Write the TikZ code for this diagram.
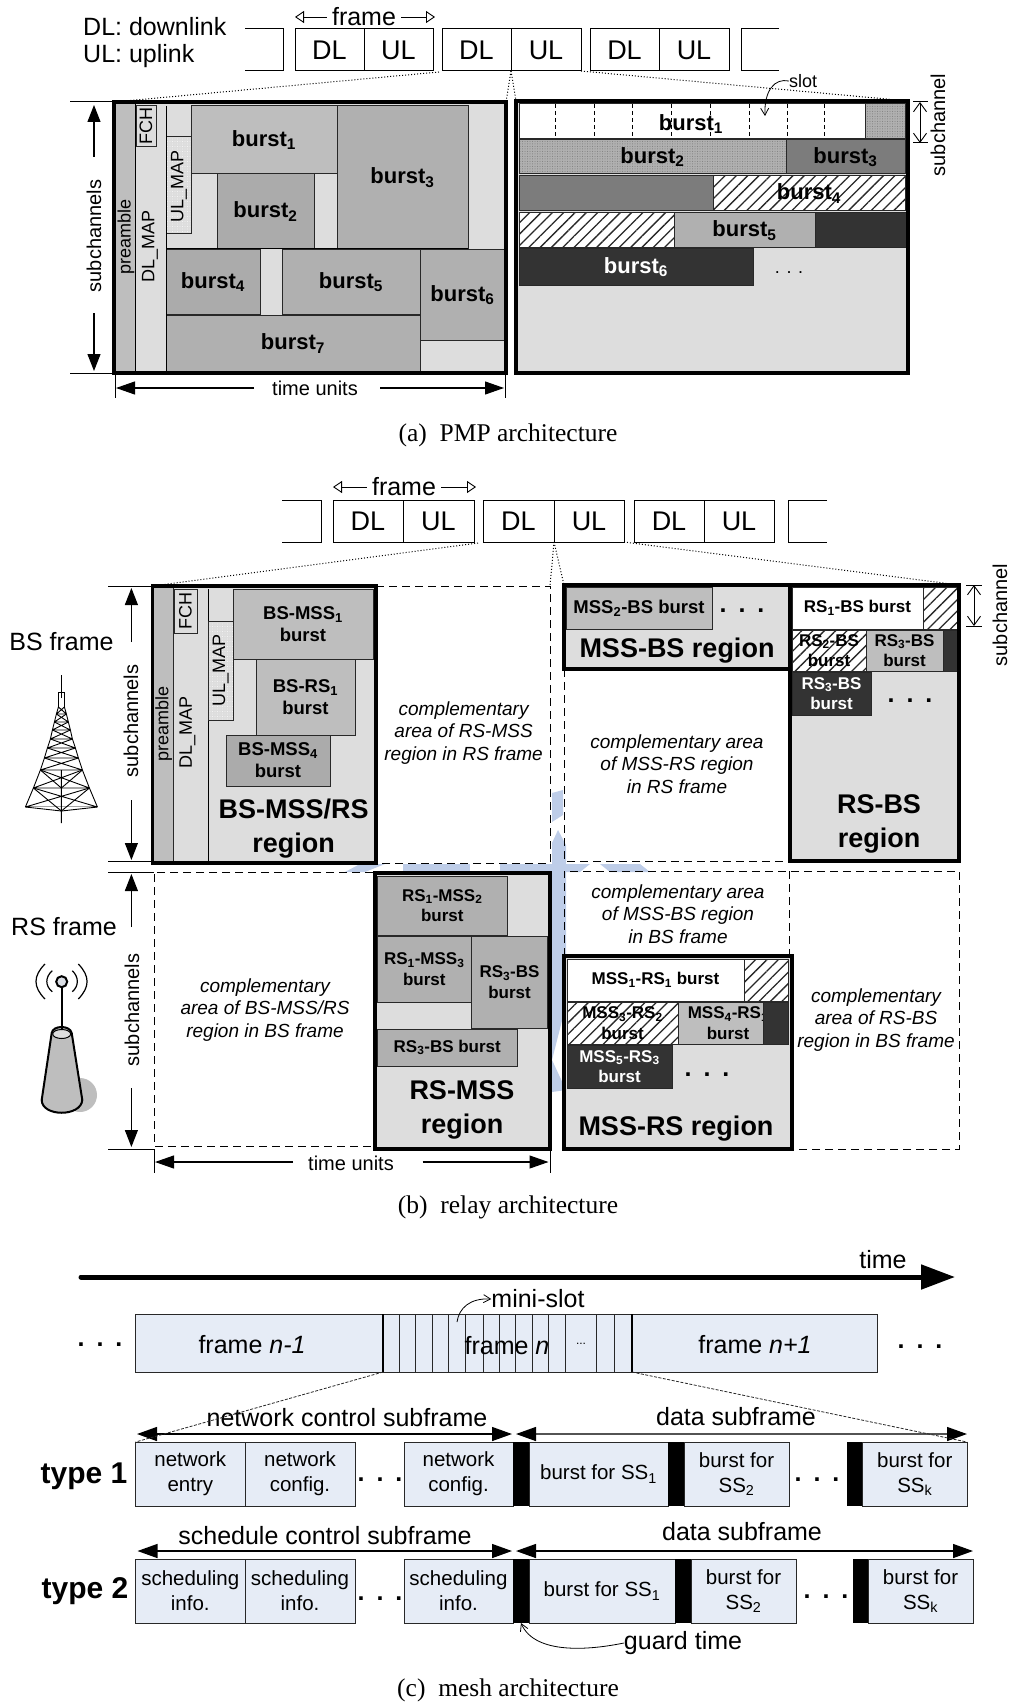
\documentclass[tikz,border=0pt]{standalone}
\usepackage{fontspec}
\setmainfont{Liberation Sans}
\newfontfamily\capfont{Liberation Serif}
\usetikzlibrary{arrows.meta, patterns.meta}
\definecolor{mylight}{RGB}{221,221,221}
\definecolor{myburst}{RGB}{176,176,176}
\definecolor{mypale}{RGB}{190,190,190}
\definecolor{mymid}{RGB}{124,124,124}
\definecolor{mydark}{RGB}{51,51,51}
\definecolor{myline}{RGB}{40,40,40}
\definecolor{myblue}{RGB}{230,236,246}
\definecolor{mywater}{RGB}{190,205,232}
\tikzset{
  cell/.style={rectangle, draw=myline, line width=1pt, inner sep=0pt, outer sep=0pt, align=center},
  framecell/.style={cell, draw=black, fill=white, font=\fontsize{27}{30}\selectfont},
  lightcell/.style={cell, fill=mylight},
  burstcell/.style={cell, fill=myburst, font=\bfseries\fontsize{22}{24}\selectfont},
  palecell/.style={burstcell, fill=mypale},
  midcell/.style={burstcell, fill=mymid},
  darkcell/.style={burstcell, fill=mydark, text=white},
  whitecell/.style={burstcell, fill=white},
  hatchcell/.style={burstcell, preaction={fill=white}, pattern={Lines[angle=45,distance=8pt,line width=1.3pt]}, pattern color=myline},
  dotcell/.style={burstcell, preaction={fill=myburst}, pattern={Dots[distance=2.5pt,radius=0.5pt]}, pattern color=mymid},
  dotlight/.style={cell, preaction={fill=mylight}, pattern={Dots[distance=2.5pt,radius=0.4pt]}, pattern color=white},
  smallburst/.style={font=\bfseries\fontsize{17}{20.5}\selectfont},
  midburst/.style={font=\bfseries\fontsize{18.5}{22}\selectfont},
  regionframe/.style={rectangle, draw=black, line width=3.6pt, inner sep=0pt, outer sep=0pt},
  bluecell/.style={cell, fill=myblue, draw=myline, font=\fontsize{20.5}{25}\selectfont},
  blackcell/.style={rectangle, fill=black, inner sep=0pt, outer sep=0pt},
  vlabel/.style={rotate=90, inner sep=0pt, font=\fontsize{18}{20}\selectfont},
  sublabel/.style={rotate=90, inner sep=0pt, font=\fontsize{20}{22}\selectfont},
  biglabel/.style={inner sep=0pt, font=\fontsize{25}{30}\selectfont},
  midlabel/.style={inner sep=0pt, font=\fontsize{20}{22}\selectfont},
  regionlabel/.style={inner sep=0pt, align=center, font=\bfseries\fontsize{27}{34}\selectfont},
  complabel/.style={inner sep=0pt, align=center, font=\itshape\fontsize{19}{22.7}\selectfont},
  caplabel/.style={inner sep=0pt, font=\capfont\fontsize{25.5}{30}\selectfont},
  typelabel/.style={inner sep=0pt, font=\bfseries\fontsize{30}{34}\selectfont},
  dotslabel/.style={inner sep=0pt, anchor=base, font=\bfseries\fontsize{25}{30}\selectfont},
  dimarrow/.style={-{Triangle[length=17pt,width=13pt]}, line width=1.1pt, color=black},
  timearrow/.style={-{Triangle[length=19pt,width=13pt]}, line width=1.1pt, color=black},
  framearrow/.style={-{Triangle[open,length=9pt,width=12pt]}, line width=0.9pt, color=black},
  barbarrow/.style={{Straight Barb[length=9pt,width=13pt]}-{Straight Barb[length=9pt,width=13pt]}, line width=0.9pt, color=black},
  curvearrow/.style={-{Straight Barb[length=7pt,width=8pt]}, line width=0.8pt, color=black},
  spanarrow/.style={{Triangle[length=20pt,width=14pt,color=black]}-{Triangle[length=20pt,width=14pt,color=black]}, line width=1.4pt, color=black},
  thinline/.style={line width=1pt, color=black},
  dotline/.style={line width=1pt, dotted, color=black},
  dashline/.style={line width=1pt, dash pattern=on 8pt off 5pt, color=black},
  zoomline/.style={line width=0.8pt, dash pattern=on 3pt off 1.5pt, color=myline},
  towerline/.style={line width=0.9pt, color=black}
}
\newcommand{\blk}[7][]{\node[#3, anchor=north west, minimum width={(#6-#4)*1pt}, minimum height={(#7-#5)*1pt}] (#2) at (#4,#5) {#1};}
\begin{document}
\begin{tikzpicture}[x=1pt, y=-1pt]
  \path[use as bounding box] (0,0) rectangle (1012,1704);

  % Watermark traces
  \fill[mywater] (552,843) -- (558,830) -- (566,845) -- (566,1005) -- (552,1060) -- (566,1090) -- (552,1092) -- cycle;
  \fill[mywater] (552,793) -- (563,790) -- (563,815) -- (552,822) -- cycle;
  \fill[mywater] (345,872) -- (360,864) -- (385,864) -- (365,872) -- cycle;
  \fill[mywater] (403,864) rectangle (470,872);
  \fill[mywater] (500,864) rectangle (552,872);
  \fill[mywater] (566,864) -- (590,864) -- (580,872) -- (566,872) -- cycle;
  \fill[mywater] (600,864) -- (640,864) -- (650,872) -- (610,872) -- cycle;

  % Frame strip (a)
  \node[biglabel, anchor=base west] (legdl) at (83,36) {DL: downlink};
  \node[biglabel, anchor=base west] (legul) at (83,63) {UL: uplink};
  \draw[thinline] (245,29) -- (283,29) -- (283,71) -- (245,71);
  \blk[DL]{fa1dl}{framecell}{295}{29}{364}{71}
  \blk[UL]{fa1ul}{framecell}{364}{29}{433}{71}
  \blk[DL]{fa2dl}{framecell}{442}{29}{511}{71}
  \blk[UL]{fa2ul}{framecell}{511}{29}{581}{71}
  \blk[DL]{fa3dl}{framecell}{590}{29}{659}{71}
  \blk[UL]{fa3ul}{framecell}{659}{29}{729}{71}
  \draw[thinline] (779,29) -- (741,29) -- (741,71) -- (779,71);
  \node[biglabel] (fralab) at (364,17) {frame};
  \coordinate (fral) at (295,17);
  \coordinate (frar) at (435,17);
  \draw[framearrow] (fralab.west) ++(-5,0) -- (fral);
  \draw[framearrow] (fralab.east) ++(5,0) -- (frar);

  % PMP downlink
  \blk{pmpdl}{lightcell}{114}{102}{506}{373}
  \blk{pmppre}{cell, fill=mypale}{114}{102}{135}{373}
  \blk{pmpfch}{lightcell}{136}{106}{156}{147}
  \blk{pmpul}{dotlight}{166}{137}{191}{234}
  \blk[burst\textsubscript{1}]{pb1}{burstcell, fill=mypale}{191}{106}{337}{174}
  \blk[burst\textsubscript{2}]{pb2}{burstcell, fill=mypale!90!black}{217}{174}{314}{249}
  \blk[burst\textsubscript{3}]{pb3}{burstcell}{337}{106}{468}{249}
  \blk[burst\textsubscript{4}]{pb4}{burstcell, fill=mypale!90!black}{166}{250}{260}{314}
  \blk[burst\textsubscript{5}]{pb5}{burstcell}{282}{250}{420}{314}
  \blk[burst\textsubscript{6}]{pb6}{burstcell}{420}{250}{505}{340}
  \blk[burst\textsubscript{7}]{pb7}{burstcell}{166}{315}{420}{372}
  \draw[thinline] (135,102) -- (135,373) (166,106) -- (166,373) (166,249) -- (468,249);
  \blk{pmpbox}{regionframe}{114}{102}{506}{373}
  \node[vlabel] (lpre) at (126,237) {preamble};
  \node[vlabel] (ldlm) at (150,246) {DL\_MAP};
  \node[vlabel] (lfch) at (146,126) {FCH};
  \node[vlabel] (lulm) at (179,186) {UL\_MAP};

  % PMP uplink
  \blk{pmpup}{lightcell}{516}{101}{908}{373}
  \blk{upcell}{whitecell}{519}{104}{865}{139}
  \foreach \xs in {555,594,632,671,710,749,787,824}
    \draw[line width=0.7pt, dash pattern=on 4pt off 3pt] (\xs,104) -- (\xs,139);
  \node[inner sep=0pt, font=\bfseries\fontsize{22}{24}\selectfont] (ub1) at (691,124) {burst\textsubscript{1}};
  \blk{udot}{dotcell}{865}{104}{905}{139}
  \blk[burst\textsubscript{2}]{ub2}{dotcell}{519}{140}{786}{174}
  \blk[burst\textsubscript{3}]{ub3}{midcell}{786}{140}{905}{174}
  \blk{umid}{midcell}{519}{176}{713}{211}
  \blk[burst\textsubscript{4}]{ub4}{hatchcell}{713}{176}{905}{211}
  \blk{uhat}{hatchcell}{519}{213}{674}{248}
  \blk[burst\textsubscript{5}]{ub5}{burstcell}{674}{213}{815}{248}
  \blk{udrk}{darkcell}{815}{213}{908}{248}
  \blk[burst\textsubscript{6}]{ub6}{darkcell}{519}{249}{753}{285}
  \blk{upbox}{regionframe}{516}{101}{908}{373}
  \node[inner sep=0pt, anchor=base, font=\fontsize{18}{20}\selectfont] (udots) at (789,273) {. . .};
  \node[inner sep=0pt, font=\fontsize{18}{20}\selectfont] (lslot) at (803,81) {slot};
  \coordinate (slottip) at (765,116);
  \draw[curvearrow] (lslot.west) .. controls (775,78) and (764,90) .. (slottip);

  % Zoom lines (a)
  \draw[dotline] (fa1ul.south east) ++(6,1) -- (pmpbox.north west);
  \draw[dotline] (fa2ul.south west) -- (pmpbox.north east);
  \draw[dotline] (fa2ul.south west) -- (upbox.north west);
  \draw[dotline] (fa2ul.south east) -- (upbox.north east);

  % Dimensions (a)
  \coordinate (sa1) at (70,102);
  \coordinate (sa2) at (70,373);
  \coordinate (satip1) at (94,105);
  \coordinate (satip2) at (94,371);
  \coordinate (satail1) at (94,157);
  \coordinate (satail2) at (94,313);
  \draw[thinline] (sa1) -- (pmpbox.north west) (sa2) -- (pmpbox.south west);
  \draw[dimarrow] (satail1) -- (satip1);
  \draw[dimarrow] (satail2) -- (satip2);
  \node[sublabel] (lsuba) at (94,236) {subchannels};
  \coordinate (ta1) at (115,398);
  \coordinate (ta2) at (505,398);
  \draw[thinline] (pmpbox.south west) ++(1,0) -- (ta1);
  \draw[thinline] (pmpbox.south east) ++(-1,0) -- (ta2);
  \node[midlabel] (ltimea) at (315,388) {time units};
  \coordinate (tatip1) at (116,388);
  \coordinate (tatip2) at (504,388);
  \draw[timearrow] (254,388) -- (tatip1);
  \draw[timearrow] (380,388) -- (tatip2);
  \coordinate (sr1) at (920,102);
  \coordinate (sr2) at (920,143);
  \draw[barbarrow] (sr1) -- (sr2);
  \draw[thinline] (913,102) -- (928,102) (913,143) -- (928,143);
  \node[sublabel] (lsubr) at (938,125) {subchannel};
  \node[caplabel] (capa) at (508,435) {(a)\enspace PMP architecture};

  % Frame strip (b)
  \draw[thinline] (282,500) -- (321,500) -- (321,542) -- (282,542);
  \blk[DL]{fb1dl}{framecell}{333}{500}{403}{542}
  \blk[UL]{fb1ul}{framecell}{403}{500}{474}{542}
  \blk[DL]{fb2dl}{framecell}{483}{500}{554}{542}
  \blk[UL]{fb2ul}{framecell}{554}{500}{624}{542}
  \blk[DL]{fb3dl}{framecell}{634}{500}{704}{542}
  \blk[UL]{fb3ul}{framecell}{704}{500}{774}{542}
  \draw[thinline] (827,500) -- (788,500) -- (788,542) -- (827,542);
  \node[biglabel] (frblab) at (404,487) {frame};
  \coordinate (frbl) at (333,487);
  \coordinate (frbr) at (476,487);
  \draw[framearrow] (frblab.west) ++(-5,0) -- (frbl);
  \draw[framearrow] (frblab.east) ++(5,0) -- (frbr);

  % Complementary outlines
  \draw[dashline] (376,586) -- (550,586) -- (550,863) -- (376,863);
  \draw[dashline] (564,669) -- (564,861) -- (790,861);
  \draw[dashline] (373,872) -- (154,872) -- (154,1146) -- (373,1146);
  \draw[dashline] (564,956) -- (564,871) -- (959,871) -- (959,1149) -- (792,1149);
  \draw[dashline] (789,871) -- (789,956);

  % BS-MSS/RS region
  \blk{bsreg}{lightcell}{152.5}{586}{376}{863}
  \blk{bspre}{cell, fill=mypale}{152.5}{586}{173}{863}
  \draw[thinline] (208.6,589) -- (208.6,863);
  \blk{bsfch}{lightcell}{174}{589}{197}{633}
  \blk{bsulm}{dotlight}{208.6}{621}{233}{720}
  \blk[BS-MSS\textsubscript{1}\\burst]{bsb1}{palecell, midburst}{233}{589}{373}{659}
  \blk[BS-RS\textsubscript{1}\\burst]{bsb2}{palecell, midburst}{256}{659}{355}{735}
  \blk[BS-MSS\textsubscript{4}\\burst]{bsb3}{burstcell, fill=mypale!90!black, midburst}{226}{735}{330}{786}
  \blk{bsbox}{regionframe}{152.5}{586}{376}{863}
  \node[regionlabel] (lbsreg) at (293.6,829) {BS-MSS/RS\\region};
  \node[vlabel] (lbspre) at (163.6,724) {preamble};
  \node[vlabel] (lbsdlm) at (187.5,732) {DL\_MAP};
  \node[vlabel] (lbsfch) at (185.5,611) {FCH};
  \node[vlabel] (lbsulm) at (220.7,670) {UL\_MAP};
  \node[complabel] (lc1) at (463.6,733) {complementary\\area of RS-MSS\\region in RS frame};
  \node[complabel] (lc2) at (677,764) {complementary area\\of MSS-RS region\\in RS frame};
  \node[complabel] (lc3) at (678,914) {complementary area\\of MSS-BS region\\in BS frame};
  \node[complabel] (lc4) at (876,1020) {complementary\\area of RS-BS\\region in BS frame};
  \node[complabel] (lc5) at (265,1010) {complementary\\area of BS-MSS/RS\\region in BS frame};

  % MSS-BS region
  \blk{msreg}{lightcell}{564}{585}{790}{669}
  \blk[MSS\textsubscript{2}-BS burst]{msb}{burstcell, fill=mypale, midburst}{566}{587}{712}{629}
  \blk{msbox}{regionframe}{564}{585}{790}{669}
  \node[regionlabel] (lmsreg) at (677,651) {MSS-BS region};
  \node[dotslabel] (msdots) at (742,612) {.\hspace{12pt}.\hspace{12pt}.};

  % RS-BS region
  \blk{rbreg}{lightcell}{790}{585}{959}{861}
  \blk[RS\textsubscript{1}-BS burst]{rbb1}{whitecell, smallburst}{792}{587}{923}{629}
  \blk{rbh1}{hatchcell}{923}{587}{957}{629}
  \blk[RS\textsubscript{2}-BS\\burst]{rbb2}{hatchcell, smallburst}{792}{630}{866}{671}
  \blk[RS\textsubscript{3}-BS\\burst]{rbb3}{palecell, smallburst}{866}{630}{943}{671}
  \blk{rbd1}{darkcell}{943}{630}{957}{671}
  \blk[RS\textsubscript{3}-BS\\burst]{rbb4}{darkcell, smallburst}{792}{672}{871}{715}
  \blk{rbbox}{regionframe}{790}{585}{959}{861}
  \node[regionlabel] (lrbreg) at (879,824) {RS-BS\\region};
  \node[dotslabel] (rbdots) at (910,702) {.\hspace{12pt}.\hspace{12pt}.};

  % RS-MSS region
  \blk{rmreg}{lightcell}{375}{873}{550}{1149}
  \blk[RS\textsubscript{1}-MSS\textsubscript{2}\\burst]{rmb1}{burstcell, smallburst}{377.5}{876}{507}{935}
  \blk[RS\textsubscript{1}-MSS\textsubscript{3}\\burst]{rmb2}{burstcell, smallburst}{377.5}{936}{471}{1002}
  \blk[RS\textsubscript{3}-BS\\burst]{rmb3}{burstcell, smallburst}{471.5}{936}{547.5}{1028}
  \blk[RS\textsubscript{3}-BS burst]{rmb4}{burstcell, smallburst}{377.5}{1029}{517}{1066}
  \blk{rmbox}{regionframe}{375}{873}{550}{1149}
  \node[regionlabel] (lrmreg) at (462,1110) {RS-MSS\\region};

  % MSS-RS region
  \blk{mrreg}{lightcell}{564}{956}{792}{1149}
  \blk[MSS\textsubscript{1}-RS\textsubscript{1} burst]{mrb1}{whitecell, smallburst}{567}{959}{744}{1001}
  \blk{mrh1}{hatchcell}{744}{959}{788}{1001}
  \blk[MSS\textsubscript{3}-RS\textsubscript{2}\\burst]{mrb2}{hatchcell, smallburst}{567}{1002}{678}{1044}
  \blk[MSS\textsubscript{4}-RS\textsubscript{1}\\burst]{mrb3}{palecell, smallburst}{678}{1002}{778}{1044}
  \blk{mrd1}{darkcell}{763}{1002}{788}{1044}
  \blk[MSS\textsubscript{5}-RS\textsubscript{3}\\burst]{mrb4}{darkcell, smallburst}{567}{1045}{672}{1088}
  \blk{mrbox}{regionframe}{564}{956}{792}{1149}
  \node[regionlabel] (lmrreg) at (676,1129) {MSS-RS region};
  \node[dotslabel] (mrdots) at (707,1076) {.\hspace{12pt}.\hspace{12pt}.};

  % Zoom lines (b)
  \draw[dotline] (fb2dl.south west) ++(-5,1) -- (bsbox.north west);
  \draw[dotline] (fb2ul.south west) -- (550,586);
  \draw[dotline] (fb2ul.south west) -- (msbox.north west);
  \draw[dotline] (fb2ul.south east) -- (rbbox.north east);

  % Dimensions (b)
  \coordinate (sb1) at (108,586);
  \coordinate (sb2) at (108,861);
  \coordinate (sb3) at (108,872);
  \coordinate (sb4) at (108,1149);
  \draw[thinline] (sb1) -- (bsbox.north west) (sb2) -- (152,861);
  \draw[thinline] (sb3) -- (154,872) (sb4) -- (154,1149) -- (154,1173);
  \draw[dimarrow] (131.4,642) -- (131.4,588);
  \draw[dimarrow] (131.4,800) -- (131.4,860);
  \draw[dimarrow] (131.4,927) -- (131.4,874);
  \draw[dimarrow] (131.4,1088) -- (131.4,1147);
  \node[sublabel] (lsubb1) at (131,721) {subchannels};
  \node[sublabel] (lsubb2) at (132,1010) {subchannels};
  \node[biglabel] (lbsf) at (61.5,642) {BS frame};
  \node[biglabel] (lrsf) at (64,927) {RS frame};
  \draw[thinline] (550,1149) -- (550,1173);
  \draw[timearrow] (293,1162) -- (155,1162);
  \draw[timearrow] (422.5,1162) -- (548.5,1162);
  \node[midlabel] (ltimeb) at (351,1163) {time units};
  \coordinate (srb1) at (974,585);
  \coordinate (srb2) at (974,626);
  \draw[barbarrow] (srb1) -- (srb2);
  \draw[thinline] (966,585) -- (982,585) (966,626) -- (982,626);
  \node[sublabel] (lsubrb) at (1000,615) {subchannel};
  \node[caplabel] (capb) at (508,1207) {(b)\enspace relay architecture};

  % BS tower
  \draw[towerline] (61.4,675) -- (61.4,698) (58.5,692) -- (58.5,707) (64.5,692) -- (64.5,707) (58.5,692) -- (64.5,692);
  \foreach \ya/\wa/\yb/\wb in {707/3/714/5, 714/5/722/7, 722/7/730/9, 730/9/739/11, 739/11/748/14, 748/14/758/17, 758/17/770/21, 770/21/788/28, 788/28/807/36}
    \draw[towerline] ({61.4-\wa},\ya) -- ({61.4-\wb},\yb) ({61.4+\wa},\ya) -- ({61.4+\wb},\yb)
      ({61.4-\wa},\ya) -- ({61.4+\wb},\yb) ({61.4+\wa},\ya) -- ({61.4-\wb},\yb) ({61.4-\wb},\yb) -- ({61.4+\wb},\yb);
  \draw[towerline, fill=white] (25.4,807) -- (61.4,811) -- (97.4,807) (61.4,770) -- (61.4,823);
  \draw[towerline] (40.4,770) -- (61.4,788) -- (82.4,770) (33.4,788) -- (61.4,811) -- (89.4,788);

  % RS antenna
  \begin{scope}
    \clip (50,1060) rectangle (110,1112);
    \fill[mypale] (80,1095) circle (17);
  \end{scope}
  \draw[line width=2pt, fill=mypale] (51.7,1033) -- (41.7,1100) .. controls (42,1117) and (81,1117) .. (82.3,1100) -- (71.7,1033) .. controls (70,1025) and (53,1025) .. (51.7,1033) -- cycle;
  \draw[line width=1pt, fill=mylight] (61.7,1034) ellipse (9 and 4.5);
  \draw[line width=2pt] (61.7,1030) -- (61.7,987);
  \draw[line width=2pt, fill=myblue!70!mypale] (61.7,981.7) circle (5.5);
  \draw[line width=1.2pt] (45,999) .. controls (33,987) and (33,976) .. (45,964);
  \draw[line width=1.2pt] (52.3,991.7) .. controls (45,986) and (45,977) .. (52.3,970.7);
  \draw[line width=1.2pt] (78.3,964) .. controls (90,976) and (90,987) .. (78.3,999);
  \draw[line width=1.2pt] (72.3,970.7) .. controls (79,977) and (79,986) .. (72.3,991.7);

  % Time axis (c)
  \coordinate (axis0) at (81,1277);
  \coordinate (axis1) at (955,1277);
  \draw[line width=5pt, line cap=round, -{Triangle[length=34pt,width=24pt]}] (axis0) -- (axis1);
  \node[biglabel] (ltime) at (883,1260) {time};

  % Frame row
  \blk{fn1}{bluecell}{135.6}{1314}{383}{1372}
  \blk{fn2}{bluecell}{383}{1314}{632}{1372}
  \blk{fn3}{bluecell}{632}{1314}{877}{1372}
  \foreach \xs in {399.6,415.7,431.9,448.7,465.5,482.9,499,515,532.6,548.7,564.9,596.5,614.6}
    \draw[line width=0.7pt, color=myline] (\xs,1314) -- (\xs,1372);
  \draw[line width=2pt] (383,1314) -- (383,1372) (632,1314) -- (632,1372);
  \node[biglabel] (fnp) at (252,1345) {frame \textit{n-1}};
  \node[biglabel] (fnm) at (507,1346) {frame \textit{n}};
  \node[biglabel] (fnq) at (755,1345) {frame \textit{n+1}};
  \node[inner sep=0pt, anchor=base, font=\fontsize{12}{14}\selectfont] (fndots) at (581,1344) {...};
  \node[dotslabel] (ld1) at (100,1346) {.\hspace{12pt}.\hspace{12pt}.};
  \node[dotslabel] (ld2) at (920,1348) {.\hspace{12pt}.\hspace{12pt}.};
  \node[biglabel] (lmini) at (538,1299) {mini-slot};
  \coordinate (minitail) at (457,1322);
  \draw[curvearrow] (minitail) .. controls (459,1308) and (470,1298) .. (lmini.west);

  % Type 1 row
  \node[typelabel] (ltype1) at (84,1476) {type 1};
  \blk[network\\entry]{t1a}{bluecell}{135.6}{1442}{245}{1506}
  \blk[network\\config.]{t1b}{bluecell}{245}{1442}{355}{1506}
  \blk[network\\config.]{t1c}{bluecell}{404}{1442}{513}{1506}
  \blk{t1g1}{blackcell}{513}{1442}{529}{1506}
  \blk[burst for SS\textsubscript{1}]{t1d}{bluecell}{529}{1442}{668}{1506}
  \blk{t1g2}{blackcell}{668}{1442}{684}{1506}
  \blk[burst for\\SS\textsubscript{2}]{t1e}{bluecell}{684}{1442}{789}{1506}
  \blk{t1g3}{blackcell}{847}{1442}{862.5}{1506}
  \blk[burst for\\SS\textsubscript{k}]{t1f}{bluecell}{862.5}{1442}{967}{1506}
  \node[dotslabel] (ld3) at (380,1481) {.\hspace{12pt}.\hspace{12pt}.};
  \node[dotslabel] (ld4) at (817,1481) {.\hspace{12pt}.\hspace{12pt}.};
  \draw[spanarrow] (137,1434) -- (512,1434);
  \draw[spanarrow, color=myline!80!white] (516,1434) -- (967,1434);
  \node[biglabel] (lnet) at (347,1418) {network control subframe};
  \node[biglabel] (ldat1) at (736,1417) {data subframe};

  % Zoom lines (c)
  \draw[zoomline] (fn2.south west) -- (t1a.north west);
  \draw[zoomline] (fn2.south east) -- (t1f.north east);

  % Type 2 row
  \node[typelabel] (ltype2) at (85,1591) {type 2};
  \blk[scheduling\\info.]{t2a}{bluecell}{135.6}{1559}{245}{1623}
  \blk[scheduling\\info.]{t2b}{bluecell}{245}{1559}{355}{1623}
  \blk[scheduling\\info.]{t2c}{bluecell}{404}{1559}{513}{1623}
  \blk{t2g1}{blackcell}{513}{1559}{529}{1623}
  \blk[burst for SS\textsubscript{1}]{t2d}{bluecell}{529}{1559}{675}{1623}
  \blk{t2g2}{blackcell}{675}{1559}{691}{1623}
  \blk[burst for\\SS\textsubscript{2}]{t2e}{bluecell}{691}{1559}{796}{1623}
  \blk{t2g3}{blackcell}{853}{1559}{868}{1623}
  \blk[burst for\\SS\textsubscript{k}]{t2f}{bluecell}{868}{1559}{973}{1623}
  \node[dotslabel] (ld5) at (380,1600) {.\hspace{12pt}.\hspace{12pt}.};
  \node[dotslabel] (ld6) at (826,1598) {.\hspace{12pt}.\hspace{12pt}.};
  \draw[spanarrow] (137.5,1551) -- (512,1551);
  \draw[spanarrow] (516,1551) -- (973,1551);
  \node[biglabel] (lsch) at (325,1536) {schedule control subframe};
  \node[biglabel] (ldat2) at (742,1532) {data subframe};
  \node[biglabel] (lguard) at (683,1643) {guard time};
  \draw[curvearrow] (lguard.west) .. controls (590,1650) and (535,1655) .. (t2g1.south);
  \node[caplabel] (capc) at (508,1690) {(c)\enspace mesh architecture};
\end{tikzpicture}
\end{document}
